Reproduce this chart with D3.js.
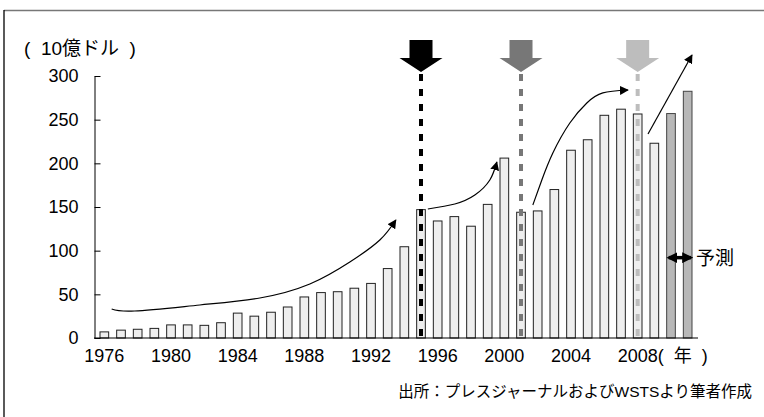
<!DOCTYPE html>
<html>
<head>
<meta charset="utf-8">
<script src="https://cdn.jsdelivr.net/npm/d3@7"></script>
<style>
  body { margin: 0; background: #fff; }
  svg text { font-family: "Liberation Sans", Arial, "Noto Sans CJK JP", sans-serif; }
</style>
</head>
<body>
<svg id="chart" width="764" height="417"></svg>
<script>
// 世界半導体市場 (10億ドル)
const years = d3.range(1976, 2012);
const sales = [7, 9, 10, 11, 15, 15, 14.5, 17.5, 28.5, 25, 29.5, 35.5, 47, 52, 53, 57,
               62.5, 79.5, 104.5, 147, 134, 139, 128, 153, 206, 144, 145.5, 170,
               215, 227, 255, 262, 256.5, 223, 257, 282.5];
const forecastYears = [2010, 2011];
const yTicks = [0, 50, 100, 150, 200, 250, 300];
const xTickYears = [1976, 1980, 1984, 1988, 1992, 1996, 2000, 2004, 2008];
const markerYears = [1995, 2001, 2008];

// growth arrows, [year, value]
const growth1 = [[1976.44, 33.2], [1977.82, 30.9], [1981.73, 37.8], [1985.33, 45.8],
                 [1988.33, 61.8], [1990.73, 87.0], [1992.53, 112.2], [1993.49, 135.1]];
const growth2 = [[1995.41, 147.7], [1997.03, 153.4], [1998.23, 163.7], [1999.13, 180.9], [1999.55, 201.5]];
const growth3 = [[2001.71, 152.3], [2002.25, 180.9], [2002.91, 211.8], [2003.93, 246.2],
                 [2004.95, 269.1], [2005.91, 280.6], [2007.42, 284.0]];
const growth4 = [[2008.62, 233.6], [2011.26, 324.1]];
const forecastLabelValue = 92;

const svg = d3.select("#chart");

const x = d3.scaleBand().domain(years).range([96, 696]).paddingInner(0.48).paddingOuter(0.24);
const y = d3.scaleLinear().domain([0, 300]).range([338, 76]);
const xc = yr => x(1976) + x.bandwidth() / 2 + (yr - 1976) * x.step();

// frame
svg.append("line").attr("x1", 4).attr("x2", 764).attr("y1", 10.5).attr("y2", 10.5)
    .attr("stroke", "#777").attr("stroke-width", 1.3);
svg.append("line").attr("x1", 4).attr("x2", 4).attr("y1", 10).attr("y2", 417)
    .attr("stroke", "#000").attr("stroke-width", 1.3);

// bars
svg.append("g").selectAll("rect")
    .data(years)
    .join("rect")
    .attr("x", d => x(d))
    .attr("y", (d, i) => y(sales[i]))
    .attr("width", x.bandwidth())
    .attr("height", (d, i) => y(0) - y(sales[i]))
    .attr("fill", d => forecastYears.includes(d) ? "#b8b8b8" : "#eeeeee")
    .attr("stroke", d => forecastYears.includes(d) ? "#444" : "#222")
    .attr("stroke-width", 1);

// axes
const yAxis = svg.append("g")
    .attr("transform", `translate(94.5,0)`)
    .call(d3.axisLeft(y).tickValues(yTicks).tickSizeInner(-6).tickSizeOuter(0).tickPadding(16));
yAxis.selectAll("text").attr("font-size", 18).attr("fill", "#000");
yAxis.selectAll("line, path").attr("stroke", "#000");

const xAxis = svg.append("g")
    .attr("transform", `translate(0,${y(0)})`)
    .call(d3.axisBottom(x).tickValues(xTickYears).tickSize(0).tickPadding(11));
xAxis.select(".domain").attr("d", `M94,0H698`).attr("stroke", "#000");
xAxis.selectAll("text").attr("font-size", 18).attr("fill", "#000");

svg.append("text")
    .attr("x", xc(2008) + 20).attr("y", 362)
    .attr("font-size", 18)
    .attr("xml:space", "preserve")
    .text("(  年  )");

svg.append("text")
    .attr("x", 24).attr("y", 55)
    .attr("font-size", 19)
    .attr("xml:space", "preserve")
    .text("(  10億ドル  )");

// marker arrows + dashed lines
const markerColors = ["#000", "#777", "#bdbdbd"];
const mk = svg.append("g");
markerYears.forEach((yr, i) => {
    const cx = xc(yr);
    mk.append("line")
        .attr("x1", cx).attr("x2", cx)
        .attr("y1", 74).attr("y2", y(0))
        .attr("stroke", markerColors[i])
        .attr("stroke-width", 4)
        .attr("stroke-dasharray", "7,8");
    mk.append("path")
        .attr("d", `M${cx - 11.5},40H${cx + 11.5}V58H${cx + 21.5}L${cx},72L${cx - 21.5},58H${cx - 11.5}Z`)
        .attr("fill", markerColors[i]);
});

// arrowheads
const defs = svg.append("defs");
defs.append("marker")
    .attr("id", "head").attr("viewBox", "0 0 10 10")
    .attr("refX", 9).attr("refY", 5)
    .attr("markerWidth", 9).attr("markerHeight", 9)
    .attr("markerUnits", "userSpaceOnUse")
    .attr("orient", "auto")
    .append("path").attr("d", "M0,0L10,5L0,10Z").attr("fill", "#000");
defs.append("marker")
    .attr("id", "head2").attr("viewBox", "0 0 10 10")
    .attr("refX", 8).attr("refY", 5)
    .attr("markerWidth", 11).attr("markerHeight", 11)
    .attr("markerUnits", "userSpaceOnUse")
    .attr("orient", "auto-start-reverse")
    .append("path").attr("d", "M0,0L10,5L0,10Z").attr("fill", "#000");

const line = d3.line().x(d => xc(d[0])).y(d => y(d[1])).curve(d3.curveNatural);
[growth1, growth2, growth3, growth4].forEach(pts => {
    svg.append("path")
        .attr("d", line(pts))
        .attr("fill", "none")
        .attr("stroke", "#000")
        .attr("stroke-width", 1.2)
        .attr("marker-end", "url(#head)");
});

// 予測
const fx0 = x(forecastYears[0]) + 2;
const fx1 = x(forecastYears[forecastYears.length - 1]) + x.bandwidth() - 1;
svg.append("line")
    .attr("x1", fx0).attr("x2", fx1)
    .attr("y1", y(forecastLabelValue)).attr("y2", y(forecastLabelValue))
    .attr("stroke", "#000").attr("stroke-width", 3.5)
    .attr("marker-start", "url(#head2)")
    .attr("marker-end", "url(#head2)");
svg.append("text")
    .attr("x", fx1 + 5).attr("y", y(forecastLabelValue) + 7)
    .attr("font-size", 19)
    .text("予測");

svg.append("text")
    .attr("x", 752).attr("y", 397)
    .attr("text-anchor", "end")
    .attr("font-size", 15.5)
    .text("出所：プレスジャーナルおよびWSTSより筆者作成");
</script>
</body>
</html>
